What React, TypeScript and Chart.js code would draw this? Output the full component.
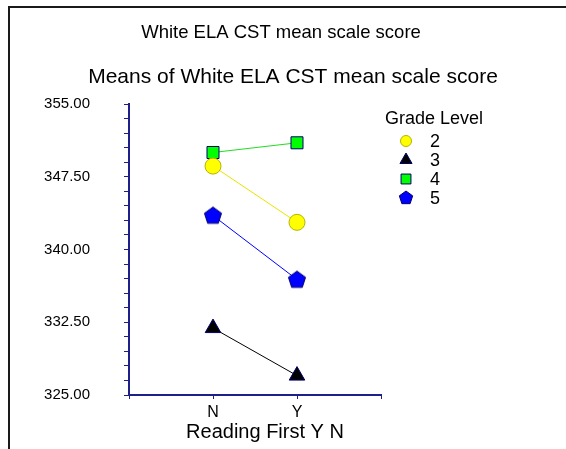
import React, { useEffect, useRef } from 'react';
import { Chart, registerables } from 'chart.js';

Chart.register(...registerables);

// ---- data ----
const chartTitle = 'White ELA CST mean scale score';
const chartSubtitle = 'Means of White ELA CST mean scale score';
const xAxisTitle = 'Reading First Y N';
const legendTitle = 'Grade Level';
const categories = ['N', 'Y'];
const seriesLabels = ['2', '3', '4', '5'];
const grade2 = [348.6, 342.8];
const grade3 = [331.9, 327.0];
const grade4 = [350.0, 351.0];
const grade5 = [343.5, 336.9];
const yTickValues = [325, 332.5, 340, 347.5, 355];
const yTickLabels = ['325.00', '332.50', '340.00', '347.50', '355.00'];

// ---- styles ----
const FONT = '"Liberation Sans", Arial, Helvetica, sans-serif';
const NAVY = '#1f1f8a';
const MARK_BORDER = '#00006e';
const seriesStyles = [
  { line: '#e6e600', fill: '#ffff00', border: '#b5b500', shape: 'circle', r: 8, lr: 5.5 },
  { line: '#000000', fill: '#000000', border: MARK_BORDER, shape: 'triangle', r: 9, lr: 7 },
  { line: '#22dd22', fill: '#00ff00', border: MARK_BORDER, shape: 'rect', r: 8.5, lr: 7 },
  { line: '#0000ff', fill: '#0000ff', border: MARK_BORDER, shape: 'pentagon', r: 9, lr: 7 },
];

function pentagonPath(ctx: CanvasRenderingContext2D, cx: number, cy: number, r: number) {
  ctx.beginPath();
  for (let k = 0; k < 5; k++) {
    const a = -Math.PI / 2 + (k * 2 * Math.PI) / 5;
    const px = cx + r * Math.cos(a);
    const py = cy + r * Math.sin(a);
    if (k === 0) ctx.moveTo(px, py);
    else ctx.lineTo(px, py);
  }
  ctx.closePath();
}

function makePentagon(r: number, fill: string, stroke: string) {
  const c = document.createElement('canvas');
  const size = Math.ceil(2 * r + 4);
  c.width = size;
  c.height = size;
  const g = c.getContext('2d')!;
  pentagonPath(g, size / 2, size / 2 + 0.5, r);
  g.fillStyle = fill;
  g.fill();
  g.lineWidth = 1;
  g.strokeStyle = stroke;
  g.stroke();
  return c;
}

function drawMarker(ctx: CanvasRenderingContext2D, shape: string, x: number, y: number, r: number, fill: string, stroke: string) {
  ctx.save();
  ctx.fillStyle = fill;
  ctx.strokeStyle = stroke;
  ctx.lineWidth = 1;
  if (shape === 'circle') {
    ctx.beginPath();
    ctx.arc(x, y, r, 0, Math.PI * 2);
  } else if (shape === 'triangle') {
    ctx.beginPath();
    ctx.moveTo(x, y - r);
    ctx.lineTo(x + r * 0.866, y + r / 2);
    ctx.lineTo(x - r * 0.866, y + r / 2);
    ctx.closePath();
  } else if (shape === 'rect') {
    const s = r * Math.SQRT1_2;
    ctx.beginPath();
    ctx.rect(x - s, y - s, 2 * s, 2 * s);
  } else {
    pentagonPath(ctx, x, y, r);
  }
  ctx.fill();
  ctx.stroke();
  ctx.restore();
}

const decorPlugin = {
  id: 'decor',
  beforeDraw(chart: any) {
    const ctx: CanvasRenderingContext2D = chart.ctx;
    ctx.save();
    ctx.fillStyle = '#ffffff';
    ctx.fillRect(0, 0, chart.width, chart.height);
    ctx.fillStyle = '#1a1a1a';
    ctx.fillRect(8, 6, chart.width - 8, 2);
    ctx.fillRect(8, 6, 2, chart.height - 6);
    ctx.restore();
  },
  afterDraw(chart: any) {
    const ctx: CanvasRenderingContext2D = chart.ctx;
    ctx.save();
    ctx.fillStyle = '#000000';
    ctx.textBaseline = 'middle';
    ctx.textAlign = 'center';
    ctx.font = `18.5px ${FONT}`;
    ctx.fillText(chartTitle, 281, 33);
    ctx.font = `21px ${FONT}`;
    ctx.fillText(chartSubtitle, 293, 77);
    // x axis title
    const xs = chart.scales.x;
    ctx.font = `20px ${FONT}`;
    ctx.fillText(xAxisTitle, (xs.left + xs.right) / 2 + 10, 432);
    // legend
    ctx.textAlign = 'left';
    ctx.font = `18px ${FONT}`;
    ctx.fillText(legendTitle, 385, 119);
    const rows = [141, 160, 179, 198];
    chart.data.datasets.forEach((ds: any, i: number) => {
      const st = seriesStyles[i];
      drawMarker(ctx, st.shape, 406, rows[i], st.lr, st.fill, st.border);
      ctx.fillStyle = '#000000';
      ctx.font = `18px ${FONT}`;
      ctx.fillText(ds.label, 430, rows[i] + 1);
    });
    ctx.restore();
  },
};

export default function App() {
  const ref = useRef<HTMLCanvasElement>(null);
  useEffect(() => {
    if (!ref.current) return;
    const pent = makePentagon(9, seriesStyles[3].fill, seriesStyles[3].border);
    const series = [grade2, grade3, grade4, grade5];
    const datasets = series.map((vals, i) => {
      const st = seriesStyles[i];
      return {
        label: seriesLabels[i],
        data: vals.map((y, j) => ({ x: j + 1, y })),
        borderColor: st.line,
        borderWidth: 1,
        pointStyle: st.shape === 'pentagon' ? pent : st.shape,
        pointRadius: st.r,
        pointHoverRadius: st.r,
        pointBackgroundColor: st.fill,
        pointBorderColor: st.border,
        pointBorderWidth: 1,
        fill: false,
        tension: 0,
        clip: false as any,
      };
    });
    const chart = new Chart(ref.current, {
      type: 'line',
      data: { datasets },
      options: {
        animation: false,
        responsive: false,
        events: [],
        layout: { padding: { top: 104, right: 185, left: 0, bottom: 0 } },
        plugins: { legend: { display: false }, tooltip: { enabled: false }, title: { display: false } },
        scales: {
          x: {
            type: 'linear',
            min: 0,
            max: 3,
            afterFit: (s: any) => { s.height = 54; },
            border: { color: NAVY, width: 2 },
            grid: { drawOnChartArea: false, tickLength: 4, color: NAVY, lineWidth: 1 },
            ticks: {
              stepSize: 1,
              autoSkip: false,
              maxRotation: 0,
              padding: 4,
              color: '#000',
              font: { family: FONT, size: 16 },
              callback: (v: any) => categories[Math.round(Number(v)) - 1] ?? '',
            },
            title: { display: false, text: xAxisTitle },
          },
          y: {
            type: 'linear',
            min: 325,
            max: 355,
            afterFit: (s: any) => { s.width = 129; },
            border: { color: NAVY, width: 2 },
            grid: { drawOnChartArea: false, tickLength: 5, color: NAVY, lineWidth: 1 },
            ticks: {
              stepSize: 1.5,
              autoSkip: false,
              padding: 34,
              color: '#000',
              font: { family: FONT, size: 15 },
              callback: (v: any) => {
                const idx = yTickValues.findIndex((t) => Math.abs(t - Number(v)) < 1e-6);
                return idx >= 0 ? yTickLabels[idx] : '';
              },
            },
          },
        },
      },
      plugins: [decorPlugin],
    });
    return () => chart.destroy();
  }, []);
  return (
    <div style={{ position: 'fixed', left: 0, top: 0, width: 566, height: 449, overflow: 'hidden' }}>
      <canvas ref={ref} width={566} height={449} style={{ display: 'block', width: 566, height: 449 }} />
    </div>
  );
}
